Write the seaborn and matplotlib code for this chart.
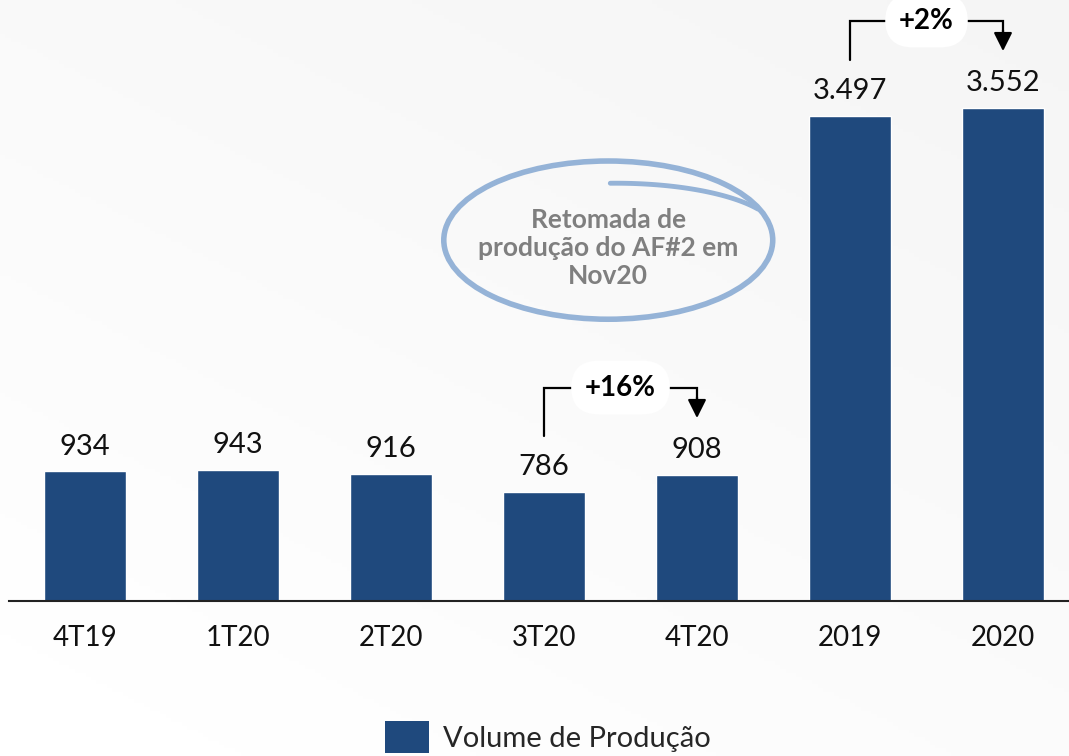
import matplotlib
matplotlib.use("Agg")
import matplotlib.pyplot as plt
import numpy as np
import pandas as pd
import seaborn as sns
from matplotlib.patches import Ellipse, Patch

# data
categories = ["4T19", "1T20", "2T20", "3T20", "4T20", "2019", "2020"]
values = [934, 943, 916, 786, 908, 3497, 3552]
value_labels = ["934", "943", "916", "786", "908", "3.497", "3.552"]
series_name = "Volume de Produção"
changes = [(3, 4, "+16%"), (5, 6, "+2%")]
note_text = "Retomada de\nprodução do AF#2 em\nNov20"

BAR = "#1F497D"
RING = "#95B3D7"

sns.set_theme(style="white")
plt.rcParams["font.family"] = ["Lato", "DejaVu Sans"]

df = pd.DataFrame({"cat": categories, "val": values})

fig = plt.figure(figsize=(10.69, 7.56), dpi=100)

# soft background gradient
bg = fig.add_axes([0, 0, 1, 1], zorder=-10)
gx, gy = np.meshgrid(np.linspace(0, 1, 200), np.linspace(0, 1, 200))
bg.imshow(1 - 0.035 * (0.5 * gx + 0.7 * (1 - gy)), cmap="gray", vmin=0, vmax=1,
          extent=[0, 1, 0, 1], aspect="auto")
bg.axis("off")

ax = fig.add_axes([8.5 / 1069, 155 / 756, 1071 / 1069, 601 / 756])
ax.patch.set_alpha(0)
sns.barplot(data=df, x="cat", y="val", color=BAR, width=0.54, saturation=1, ax=ax)

ax.set_xlim(-0.5, 6.5)
ax.set_ylim(0, 4330)
ax.set_xlabel("")
ax.set_ylabel("")
ax.set_yticks([])
ax.tick_params(axis="x", length=0, labelsize=20, pad=17, labelcolor="#111111")
for s in ["top", "right", "left"]:
    ax.spines[s].set_visible(False)
ax.spines["bottom"].set_color("#222222")
ax.spines["bottom"].set_linewidth(1.5)

for i, (v, lab) in enumerate(zip(values, value_labels)):
    ax.text(i, v + 85, lab, ha="center", va="bottom", fontsize=21, color="#111111")

# growth brackets
for a, b, txt in changes:
    y0 = values[a] + 400
    yh = values[b] + 630
    y1 = values[b] + 410
    ax.plot([a, a, b, b], [y0, yh, yh, y1 + 80], color="black", lw=1.6,
            solid_joinstyle="miter")
    ax.annotate("", xy=(b, y1), xytext=(b, y1 + 150),
                arrowprops=dict(arrowstyle="-|>", color="black", lw=1.6,
                                mutation_scale=28, shrinkA=0, shrinkB=0))
    ax.text((a + b) / 2, yh, txt, ha="center", va="center", fontsize=20,
            fontweight="bold", color="black",
            bbox=dict(boxstyle="round,pad=0.5,rounding_size=1.0", fc="white", ec="none"))

# hand-drawn style ring with note
cx, cy = 3.42, 2600
ax.add_patch(Ellipse((cx, cy), 2.15, 1140, angle=0, fill=False, ec=RING, lw=4))
t = np.radians(np.linspace(28, 92, 60))
ax.plot(cx + 0.05 + 1.05 * np.cos(t), cy + 60 + 350 * np.sin(t),
        color=RING, lw=3.5, solid_capstyle="round")
ax.text(cx, cy - 60, note_text, ha="center", va="center", fontsize=19,
        fontweight="bold", color="#7F7F7F", linespacing=1.2)

fig.legend(handles=[Patch(facecolor=BAR, edgecolor="none", label=series_name)],
           loc="center", bbox_to_anchor=(548 / 1069, 1 - 737 / 756), frameon=False,
           fontsize=21, handlelength=1.5, handleheight=1.3, handletextpad=0.5)

fig.savefig("out.png", dpi=100)
